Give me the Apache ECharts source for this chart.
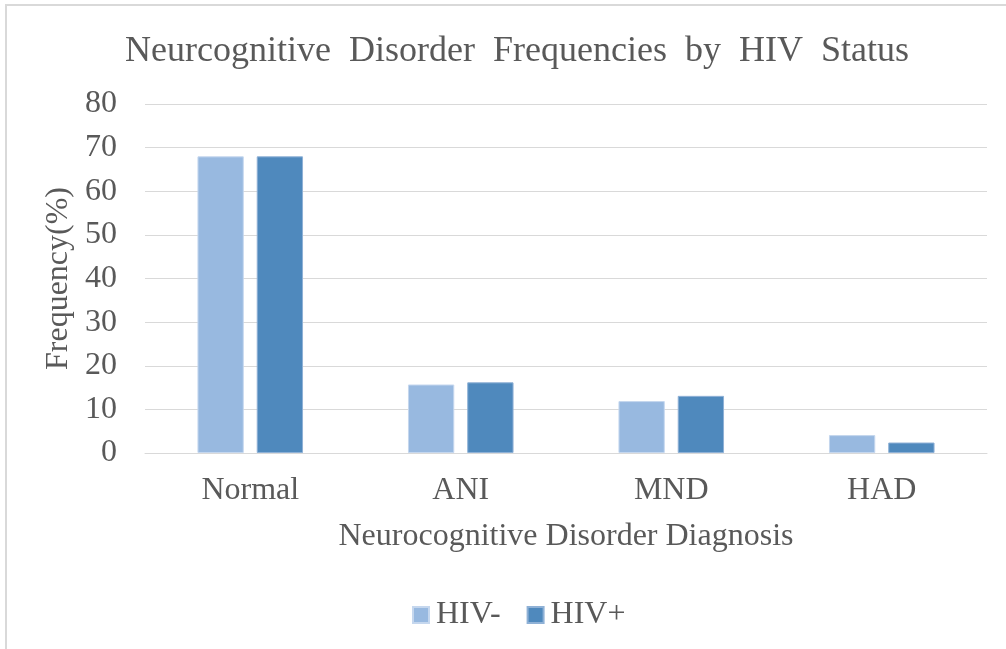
<!DOCTYPE html>
<html>
<head>
<meta charset="utf-8">
<script src="https://cdn.jsdelivr.net/npm/echarts@6/dist/echarts.min.js"></script>
<style>
html,body{margin:0;padding:0;background:#fff;}
#frame{position:absolute;left:5px;top:4px;width:1001px;height:645px;border-left:2px solid #d9d9d9;border-top:2px solid #d9d9d9;box-sizing:border-box;}
#chart{position:absolute;left:0;top:0;width:1006px;height:649px;}
</style>
</head>
<body>
<div id="frame"></div>
<div id="chart"></div>
<script>
var categories = ['Normal', 'ANI', 'MND', 'HAD'];
var hivNeg = [68, 15.7, 11.9, 4.1];
var hivPos = [68, 16.2, 13.1, 2.4];
var yTicks = [0, 10, 20, 30, 40, 50, 60, 70, 80];

var font = 'Liberation Serif, Times New Roman, serif';
var txt = '#595959';
var chart = echarts.init(document.getElementById('chart'), null, {renderer: 'canvas'});
chart.setOption({
  backgroundColor: 'transparent',
  animation: false,
  title: {
    text: 'Neurcognitive  Disorder  Frequencies  by  HIV  Status',
    left: 512, top: 29, textAlign: 'center',
    textStyle: {fontFamily: font, fontSize: 36, fontWeight: 'normal', color: txt}
  },
  legend: {
    data: ['HIV-', 'HIV+'],
    left: 407, top: 594,
    itemWidth: 16, itemHeight: 16, itemGap: 26,
    icon: 'rect',
    textStyle: {fontFamily: font, fontSize: 32, color: txt, padding: [0,0,0,2]}
  },
  grid: {left: 145, right: 19, top: 104, bottom: 196, containLabel: false},
  xAxis: {
    type: 'category',
    data: categories,
    name: 'Neurocognitive Disorder Diagnosis',
    nameLocation: 'middle',
    nameGap: 68,
    nameTextStyle: {fontFamily: font, fontSize: 32, color: txt},
    axisLine: {show: true, lineStyle: {color: '#d9d9d9', width: 1}},
    axisTick: {show: false},
    axisLabel: {fontFamily: font, fontSize: 32, color: txt, margin: 22}
  },
  yAxis: {
    type: 'value',
    min: yTicks[0], max: yTicks[yTicks.length - 1], interval: 10,
    name: 'Frequency(%)',
    nameLocation: 'middle',
    nameGap: 60,
    nameTextStyle: {fontFamily: font, fontSize: 32, color: txt},
    axisLine: {show: false},
    axisTick: {show: false},
    splitLine: {lineStyle: {color: '#d9d9d9', width: 1}},
    axisLabel: {fontFamily: font, fontSize: 32, color: txt, margin: 28}
  },
  series: [
    {name: 'HIV-', type: 'bar', data: hivNeg, barWidth: '22%', barGap: '28%',
     itemStyle: {color: '#98b9e0', borderColor: '#c5d7ee', borderWidth: 1}},
    {name: 'HIV+', type: 'bar', data: hivPos, barWidth: '22%', barGap: '28%',
     itemStyle: {color: '#4f89bd', borderColor: '#8fb1d6', borderWidth: 1}}
  ]
});
</script>
</body>
</html>
